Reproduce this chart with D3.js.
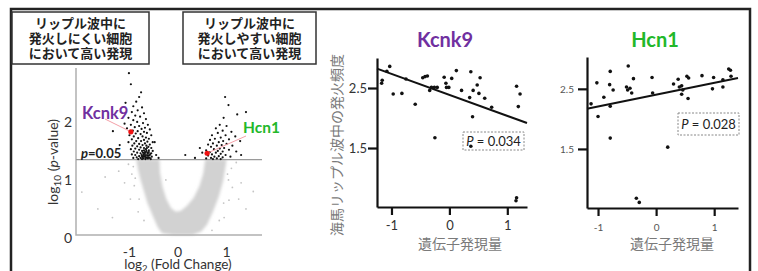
<!DOCTYPE html>
<html>
<head>
<meta charset="utf-8">
<script src="https://cdn.jsdelivr.net/npm/d3@7"></script>
<style>
  body { margin: 0; background: #fff; }
  text { font-family: Lato, "Noto Sans CJK JP", sans-serif; }
  .jp { font-family: "Noto Sans CJK JP", sans-serif; }
</style>
</head>
<body>
<script>
// Figure: volcano plot of ripple-firing genes + two expression vs firing-rate scatters

// ----- Data -----------------------------------

// header boxes above the volcano plot
var boxLowText = ["リップル波中に", "発火しにくい細胞", "において高い発現"];
var boxHighText = ["リップル波中に", "発火しやすい細胞", "において高い発現"];

// volcano plot ticks and threshold
var volcanoXTicks = [-1, 0, 1];
var volcanoYTicks = [0, 1, 2];
var pThreshold = 1.301; // -log10(0.05)

// outline of the dense grey (non significant) cloud, [log2 FC, -log10 p]
var greyCloud = [
  [-0.86, 1.30], [-0.82, 1.12], [-0.77, 0.95], [-0.71, 0.78], [-0.63, 0.55], [-0.52, 0.33],
  [-0.42, 0.14], [-0.33, 0.03], [-0.10, 0.0], [0.30, 0.0], [0.48, 0.06], [0.60, 0.18],
  [0.72, 0.40], [0.84, 0.66], [0.93, 0.93], [0.98, 1.18], [1.00, 1.30], [0.56, 1.30],
  [0.52, 1.06], [0.44, 0.84], [0.32, 0.64], [0.18, 0.50], [0.06, 0.42], [-0.04, 0.40],
  [-0.14, 0.46], [-0.24, 0.62], [-0.32, 0.84], [-0.37, 1.08], [-0.38, 1.30]
];

// scattered grey genes outside the dense cloud
var greyScatter = [
  [-1.98, 0.74], [-1.65, 0.45], [-1.22, 1.10], [-1.10, 0.90], [-0.98, 0.62], [-1.35, 0.30],
  [-1.02, 1.22], [-0.95, 1.05], [-0.90, 0.85], [-0.82, 0.40], [-0.70, 0.25], [-1.50, 1.00],
  [1.30, 0.90], [1.40, 0.45], [1.55, 0.75], [1.10, 1.15], [0.95, 0.30], [1.20, 1.25],
  [1.05, 0.60], [1.12, 0.82], [1.02, 1.05], [0.85, 0.25], [1.25, 0.62], [0.70, 0.08],
  [-0.92, 1.18], [-0.88, 0.98], [-0.80, 0.62], [1.04, 0.95], [0.94, 0.55], [-0.25, 0.95]
];

// significant genes, low in cells that fire less
var sigLow = [
  [-1.01, 2.79], [-0.97, 2.60], [-0.76, 2.46], [-0.80, 2.38], [-0.86, 2.30], [-1.08, 2.28],
  [-0.92, 2.22], [-0.74, 2.20], [-0.83, 2.15], [-0.95, 2.12], [-0.70, 2.10], [-0.88, 2.06],
  [-0.78, 2.04], [-1.02, 2.02], [-0.66, 2.00], [-0.92, 1.98], [-0.84, 1.95], [-0.72, 1.93],
  [-1.10, 1.92], [-0.97, 1.90], [-0.62, 1.90], [-0.80, 1.88], [-0.89, 1.86], [-0.68, 1.85],
  [-1.05, 1.84], [-0.75, 1.83], [-0.58, 1.82], [-0.93, 1.80], [-0.83, 1.79], [-0.70, 1.78],
  [-1.34, 1.79], [-0.64, 1.76], [-0.87, 1.75], [-0.77, 1.74], [-0.55, 1.72], [-1.00, 1.72],
  [-0.91, 1.70], [-0.73, 1.70], [-0.66, 1.68], [-0.82, 1.67], [-0.60, 1.66], [-0.95, 1.65],
  [-0.70, 1.64], [-0.86, 1.62], [-0.76, 1.62], [-0.63, 1.61], [-0.52, 1.60], [-1.02, 1.60],
  [-0.90, 1.58], [-0.68, 1.58], [-0.80, 1.57], [-0.58, 1.56], [-0.73, 1.55], [-0.94, 1.54],
  [-0.65, 1.54], [-0.84, 1.53], [-0.61, 1.52], [-0.77, 1.51], [-0.55, 1.50], [-0.70, 1.50],
  [-0.88, 1.49], [-0.97, 1.48], [-0.66, 1.48], [-0.80, 1.47], [-0.60, 1.46], [-0.74, 1.45],
  [-0.52, 1.45], [-0.91, 1.44], [-0.68, 1.43], [-0.84, 1.42], [-0.63, 1.42], [-0.77, 1.41],
  [-0.57, 1.40], [-0.71, 1.39], [-0.95, 1.39], [-0.66, 1.38], [-0.88, 1.38], [-0.60, 1.37],
  [-0.80, 1.36], [-0.74, 1.36], [-0.54, 1.35], [-0.69, 1.35], [-0.64, 1.34], [-0.85, 1.34],
  [-0.58, 1.33], [-0.77, 1.33], [-0.92, 1.33], [-0.71, 1.32], [-0.62, 1.32], [-0.67, 1.31],
  [-0.82, 1.31], [-0.56, 1.31], [-0.74, 1.31], [-1.20, 1.55], [-0.45, 1.38], [-0.40, 1.33],
  [-0.48, 1.60], [-0.65, 1.45], [-0.62, 1.40], [-0.68, 1.36], [-0.58, 1.38], [-0.72, 1.42],
  [-0.64, 1.50], [-0.70, 1.46], [-0.60, 1.43], [-0.66, 1.33], [-0.55, 1.41], [-0.73, 1.34],
  [-0.69, 1.40], [-0.63, 1.37], [-0.75, 1.38], [-0.61, 1.34], [-0.67, 1.42], [-0.71, 1.36]
];

// significant genes, high in cells that fire more
var sigHigh = [
  [0.97, 2.38], [1.04, 2.24], [1.22, 2.08], [1.40, 2.12], [0.94, 2.02], [0.86, 1.90],
  [1.00, 1.88], [0.78, 1.84], [0.92, 1.80], [1.10, 1.78], [0.82, 1.76], [0.70, 1.72],
  [0.98, 1.72], [1.18, 1.70], [0.88, 1.68], [0.76, 1.66], [1.05, 1.65], [0.66, 1.64],
  [0.93, 1.62], [0.84, 1.60], [1.28, 1.62], [0.72, 1.58], [1.00, 1.57], [0.62, 1.56],
  [0.90, 1.55], [0.80, 1.54], [1.12, 1.54], [0.68, 1.52], [0.95, 1.50], [0.86, 1.49],
  [0.74, 1.48], [1.05, 1.47], [0.58, 1.46], [0.82, 1.45], [0.92, 1.44], [0.66, 1.43],
  [1.20, 1.44], [0.78, 1.42], [0.88, 1.40], [0.70, 1.39], [0.98, 1.38], [0.62, 1.37],
  [0.84, 1.36], [0.75, 1.35], [1.08, 1.35], [0.92, 1.34], [0.68, 1.33], [0.80, 1.32],
  [0.58, 1.32], [0.88, 1.31], [0.72, 1.31], [0.50, 1.42], [0.15, 1.38], [0.35, 1.33],
  [1.30, 1.38], [0.45, 1.50]
];

// highlighted genes in the volcano plot
var kcnk9Gene = [-0.97, 1.78];
var hcn1Gene = [0.60, 1.41];

// scatter panels: [gene expression, ripple firing rate]
var scatterXTicks = [-1, 0, 1];
var scatterYTicks = [1.5, 2.5];

var kcnk9Points = [
  [-1.08, 2.78], [-1.03, 2.86], [-1.16, 2.63], [-1.17, 2.58], [-0.97, 2.40], [-0.82, 2.41],
  [-0.75, 2.65], [-0.59, 2.23], [-0.46, 2.67], [-0.42, 2.69], [-0.38, 2.70], [-0.34, 2.46],
  [-0.31, 2.51], [-0.26, 2.51], [-0.21, 2.51], [-0.09, 2.68], [-0.06, 2.58], [-0.05, 2.51],
  [-0.01, 2.51], [0.04, 2.66], [0.12, 2.79], [0.21, 2.46], [0.37, 2.77], [0.35, 2.34],
  [0.41, 2.46], [0.48, 2.55], [0.53, 2.67], [0.51, 2.41], [0.61, 2.33], [0.73, 2.18],
  [0.40, 2.02], [1.16, 2.53], [1.22, 2.40], [1.19, 2.19], [-0.25, 1.67], [0.37, 1.53],
  [1.16, 0.67], [1.15, 0.62]
];
var kcnk9Fit = [-0.35, 2.385]; // slope, intercept
var kcnk9P = "0.034";

var hcn1Points = [
  [-1.12, 2.25], [-1.02, 2.60], [-1.00, 2.04], [-0.90, 2.36], [-0.80, 2.57], [-0.79, 2.79],
  [-0.79, 2.21], [-0.74, 2.48], [-0.51, 2.53], [-0.48, 2.88], [-0.49, 2.48], [-0.45, 2.51],
  [-0.42, 2.43], [-0.39, 2.67], [-0.07, 2.69], [-0.06, 2.43], [0.30, 2.58], [0.38, 2.66],
  [0.40, 2.53], [0.44, 2.55], [0.46, 2.48], [0.44, 2.41], [0.53, 2.71], [0.56, 2.68],
  [0.55, 2.34], [0.79, 2.72], [0.99, 2.69], [0.97, 2.50], [1.15, 2.65], [1.15, 2.53],
  [1.25, 2.83], [1.28, 2.81], [1.29, 2.71], [-0.79, 1.68], [0.20, 1.53], [-0.34, 0.68],
  [-0.29, 0.61]
];
var hcn1Fit = [0.196, 2.403];
var hcn1P = "0.028";

var purple = "#7030a0",
  green = "#22b82a";

// ----- Canvas ---------------------------------

var svg = d3.select("body")
  .append("svg")
  .attr("width", 758)
  .attr("height", 271);

// soft edge for the grey cloud
svg.append("defs").append("filter")
  .attr("id", "soft")
  .append("feGaussianBlur")
  .attr("stdDeviation", 1.6);

// outer frame (bottom is cut off)
svg.append("path")
  .attr("d", "M11,271V9H750V271")
  .attr("fill", "none")
  .attr("stroke", "#222")
  .attr("stroke-width", 2.5);

// ----- Header boxes ---------------------------

function headerBox(x, w, lines) {
  svg.append("rect")
    .attr("x", x).attr("y", 12)
    .attr("width", w).attr("height", 52)
    .attr("fill", "#fff")
    .attr("stroke", "#333")
    .attr("stroke-width", 1.5);
  svg.append("text")
    .attr("class", "jp")
    .attr("text-anchor", "middle")
    .attr("font-size", 13)
    .attr("font-weight", "bold")
    .attr("fill", "#222")
    .selectAll("tspan")
    .data(lines)
    .enter().append("tspan")
    .attr("x", x + w / 2)
    .attr("y", function(d, i) { return 28 + i * 14.8; })
    .text(function(d) { return d; });
}
headerBox(12, 137, boxLowText);
headerBox(183, 133, boxHighText);

// ----- Volcano plot ---------------------------

var xV = d3.scaleLinear().domain([-2.1, 1.73]).range([76, 262]);
var yV = d3.scaleLinear().domain([0, 2.88]).range([235, 68]);

var volcano = svg.append("g");

// dense grey cloud
volcano.append("path")
  .datum(greyCloud)
  .attr("d", d3.line()
    .x(function(d) { return xV(d[0]); })
    .y(function(d) { return yV(d[1]); })
    .curve(d3.curveLinearClosed))
  .attr("fill", "#d2d2d2")
  .attr("filter", "url(#soft)");

volcano.selectAll(".grey")
  .data(greyScatter)
  .enter().append("circle")
  .attr("cx", function(d) { return xV(d[0]); })
  .attr("cy", function(d) { return yV(d[1]); })
  .attr("r", 0.9)
  .attr("fill", "#c4c4c4");

// axes (grey L shape)
volcano.append("path")
  .attr("d", "M" + xV(-2.1) + "," + yV(2.88) + "V" + yV(0) + "H" + xV(1.73))
  .attr("fill", "none")
  .attr("stroke", "#b0b0b0")
  .attr("stroke-width", 1.5);

// p = 0.05 threshold
volcano.append("line")
  .attr("x1", xV(-2.1)).attr("x2", xV(1.73))
  .attr("y1", yV(pThreshold)).attr("y2", yV(pThreshold))
  .attr("stroke", "#9a9a9a")
  .attr("stroke-width", 1.2);

volcano.selectAll(".sig")
  .data(sigLow.concat(sigHigh))
  .enter().append("circle")
  .attr("cx", function(d) { return xV(d[0]); })
  .attr("cy", function(d) { return yV(d[1]); })
  .attr("r", 1.1)
  .attr("fill", "#111");

// labels with pink leader lines
volcano.append("line")
  .attr("x1", 105).attr("y1", 119)
  .attr("x2", xV(kcnk9Gene[0])).attr("y2", yV(kcnk9Gene[1]))
  .attr("stroke", "#f4a0a8").attr("stroke-width", 1);
volcano.append("line")
  .attr("x1", 246).attr("y1", 136)
  .attr("x2", xV(hcn1Gene[0])).attr("y2", yV(hcn1Gene[1]))
  .attr("stroke", "#f4a0a8").attr("stroke-width", 1);

volcano.selectAll(".hit")
  .data([kcnk9Gene, hcn1Gene])
  .enter().append("circle")
  .attr("cx", function(d) { return xV(d[0]); })
  .attr("cy", function(d) { return yV(d[1]); })
  .attr("r", 2.6)
  .attr("fill", "#ee1111");

volcano.append("text")
  .attr("x", 82).attr("y", 119)
  .attr("font-size", 16.5).attr("font-weight", "bold")
  .attr("fill", purple)
  .text("Kcnk9");
volcano.append("text")
  .attr("x", 243).attr("y", 132.5)
  .attr("font-size", 15.5).attr("font-weight", "bold")
  .attr("fill", green)
  .text("Hcn1");

// p=0.05 label
var pLab = volcano.append("text")
  .attr("x", 81).attr("y", yV(pThreshold) - 1.5)
  .attr("font-size", 13).attr("font-weight", "bold")
  .attr("fill", "#222");
pLab.append("tspan").attr("font-style", "italic").text("p");
pLab.append("tspan").text("=0.05");

// tick labels
volcano.selectAll(".ylab")
  .data(volcanoYTicks)
  .enter().append("text")
  .attr("x", 72)
  .attr("y", function(d) { return yV(d) + 8; })
  .attr("text-anchor", "end")
  .attr("font-size", 14)
  .attr("fill", "#333")
  .text(function(d) { return d; });

volcano.selectAll(".xlab")
  .data(volcanoXTicks)
  .enter().append("text")
  .attr("x", function(d) { return xV(d); })
  .attr("y", 257)
  .attr("text-anchor", "middle")
  .attr("font-size", 14)
  .attr("fill", "#333")
  .text(function(d) { return d === -1 ? "-1" : d; });

// axis titles
var yTitle = volcano.append("text")
  .attr("transform", "translate(58,162) rotate(-90)")
  .attr("text-anchor", "middle")
  .attr("font-size", 14)
  .attr("fill", "#333");
yTitle.append("tspan").text("log");
yTitle.append("tspan").attr("font-size", 10).attr("dy", 3).text("10");
yTitle.append("tspan").attr("dy", -3).text(" (");
yTitle.append("tspan").attr("font-style", "italic").text("p");
yTitle.append("tspan").text("-value)");

var xTitle = volcano.append("text")
  .attr("x", 178).attr("y", 269)
  .attr("text-anchor", "middle")
  .attr("font-size", 13.5)
  .attr("fill", "#333");
xTitle.append("tspan").text("log");
xTitle.append("tspan").attr("font-size", 9.5).attr("dy", 2.5).text("2");
xTitle.append("tspan").attr("dy", -2.5).text(" (Fold Change)");

// ----- Scatter panels -------------------------

function scatterPanel(cfg) {
  var x = d3.scaleLinear().domain(cfg.xDomain).range(cfg.xRange);
  var y = d3.scaleLinear().domain(cfg.yDomain).range(cfg.yRange);
  var g = svg.append("g");

  // title
  g.append("text")
    .attr("x", cfg.titleX).attr("y", 47)
    .attr("text-anchor", "middle")
    .attr("font-size", cfg.titleSize).attr("font-weight", "bold")
    .attr("fill", cfg.color)
    .text(cfg.title);

  // axes
  var yAxis = d3.axisLeft(y).tickValues(scatterYTicks).tickSize(9)
    .tickSizeOuter(0).tickPadding(cfg.yPad);
  var xAxis = d3.axisBottom(x).tickValues(scatterXTicks).tickSize(8)
    .tickSizeOuter(0).tickPadding(cfg.xPad).tickFormat(d3.format("d"));

  var ya = g.append("g")
    .attr("transform", "translate(" + cfg.xRange[0] + ",0)")
    .call(yAxis);
  var xa = g.append("g")
    .attr("transform", "translate(0," + cfg.yRange[0] + ")")
    .call(xAxis);

  [ya, xa].forEach(function(a) {
    a.attr("font-family", null).attr("font-size", cfg.tickSize);
    a.select(".domain").attr("stroke", "#111").attr("stroke-width", 2.2);
    a.selectAll(".tick line").attr("stroke", "#111").attr("stroke-width", 2.2);
    a.selectAll(".tick text").attr("fill", cfg.tickColor);
  });
  ya.selectAll(".tick text").text(function(d) { return d3.format(".1f")(d); });
  xa.selectAll(".tick text").text(function(d) { return d < 0 ? "-" + Math.abs(d) : d; });

  // regression line over the x range
  var fitLine = cfg.xDomain.map(function(v) { return [v, cfg.fit[0] * v + cfg.fit[1]]; });
  g.append("path")
    .datum(fitLine)
    .attr("d", d3.line()
      .x(function(d) { return x(d[0]); })
      .y(function(d) { return y(d[1]); }))
    .attr("stroke", "#111")
    .attr("stroke-width", 2);

  // cells
  g.selectAll(".cell")
    .data(cfg.points)
    .enter().append("circle")
    .attr("cx", function(d) { return x(d[0]); })
    .attr("cy", function(d) { return y(d[1]); })
    .attr("r", 1.8)
    .attr("fill", "#111");

  // P value box
  g.append("rect")
    .attr("x", cfg.pBox[0]).attr("y", cfg.pBox[1])
    .attr("width", cfg.pBox[2]).attr("height", cfg.pBox[3])
    .attr("fill", "none")
    .attr("stroke", "#888")
    .attr("stroke-dasharray", "2,1.5");
  var pt = g.append("text")
    .attr("x", cfg.pBox[0] + cfg.pBox[2] / 2)
    .attr("y", cfg.pBox[1] + cfg.pBox[3] / 2 + 4.5)
    .attr("text-anchor", "middle")
    .attr("font-size", 13)
    .attr("fill", "#222");
  pt.append("tspan").attr("font-style", "italic").text("P");
  pt.append("tspan").text(" = " + cfg.p);

  // x title
  g.append("text")
    .attr("class", "jp")
    .attr("x", cfg.xTitleX).attr("y", 249)
    .attr("text-anchor", "middle")
    .attr("font-size", 14)
    .attr("fill", "#7a7a7a")
    .text("遺伝子発現量");

  return g;
}

var kcnk9Panel = scatterPanel({
  title: "Kcnk9", color: purple, titleX: 445, titleSize: 20,
  xDomain: [-1.25, 1.34], xRange: [377, 527],
  yDomain: [0.517, 3.0], yRange: [207, 58],
  points: kcnk9Points, fit: kcnk9Fit, p: kcnk9P,
  pBox: [463, 132, 61, 18],
  tickSize: 13, tickColor: "#333", yPad: 1, xPad: 6,
  xTitleX: 460
});

// y title only on the first scatter
kcnk9Panel.append("text")
  .attr("class", "jp")
  .attr("transform", "translate(342,145) rotate(-90)")
  .attr("text-anchor", "middle")
  .attr("font-size", 14)
  .attr("fill", "#7a7a7a")
  .text("海馬リップル波中の発火頻度");

scatterPanel({
  title: "Hcn1", color: green, titleX: 655, titleSize: 20,
  xDomain: [-1.19, 1.41], xRange: [587, 738],
  yDomain: [0.517, 3.03], yRange: [208, 57],
  points: hcn1Points, fit: hcn1Fit, p: hcn1P,
  pBox: [678, 113, 61, 22],
  tickSize: 10, tickColor: "#555", yPad: 4, xPad: 8,
  xTitleX: 672
});
</script>
</body>
</html>
